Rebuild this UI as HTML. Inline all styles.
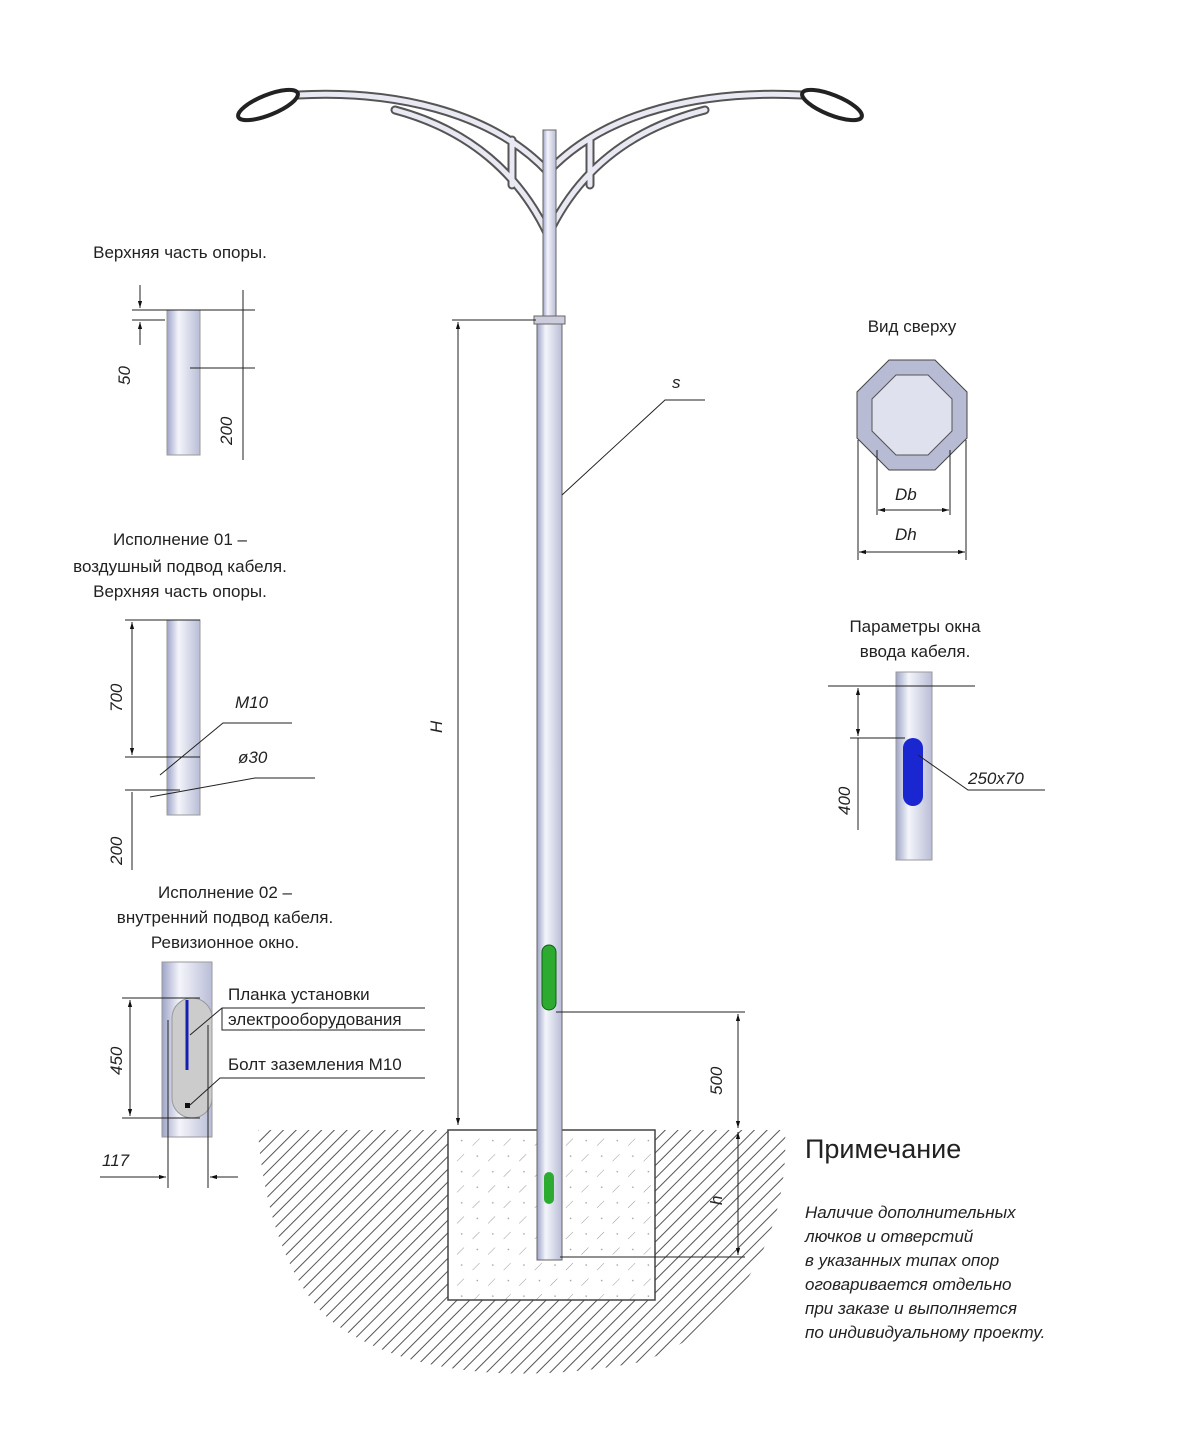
<!DOCTYPE html>
<html><head><meta charset="utf-8"><style>
html,body{margin:0;padding:0;background:#fff}
svg{display:block}
text{font-family:"Liberation Sans Narrow","Liberation Sans",sans-serif;fill:#222}
.t{font-size:17px;font-style:italic}
.h{font-size:17px}
</style></head><body>
<svg width="1182" height="1431" viewBox="0 0 1182 1431" xmlns="http://www.w3.org/2000/svg">
<defs>
<pattern id="hat" width="9" height="9" patternUnits="userSpaceOnUse" patternTransform="rotate(45)">
<rect width="9" height="9" fill="#fff"/><line x1="0" y1="0" x2="0" y2="9" stroke="#555" stroke-width="2"/>
</pattern>
<pattern id="con" width="22" height="22" patternUnits="userSpaceOnUse" patternTransform="rotate(45)">
<rect width="22" height="22" fill="#fff"/><line x1="0" y1="4" x2="0" y2="14" stroke="#999" stroke-width="1"/><circle cx="11" cy="18" r="0.8" fill="#999"/>
</pattern>
<linearGradient id="tube" x1="0" x2="1">
<stop offset="0" stop-color="#9ea4c8"/><stop offset="0.35" stop-color="#f4f5fb"/><stop offset="1" stop-color="#b9bdd6"/>
</linearGradient>
<marker id="ar" viewBox="0 0 10 10" refX="10" refY="5" markerWidth="10" markerHeight="7" orient="auto-start-reverse"><path d="M0,2 L10,5 L0,8z" fill="#111"/></marker>
</defs>

<!-- ground -->
<path d="M258,1130 L785,1130 C790,1230 740,1330 640,1362 C520,1385 400,1375 330,1320 C285,1280 262,1200 258,1130Z" fill="url(#hat)"/>
<rect x="448" y="1130" width="207" height="170" fill="url(#con)" stroke="#444" stroke-width="1.5"/>

<!-- arms -->
<g fill="none" stroke="#555" stroke-width="9" stroke-linecap="round">
<path d="M548,172 C490,110 390,90 298,95"/>
<path d="M548,235 C520,175 470,130 395,110"/>
<path d="M548,172 C606,110 706,90 802,95"/>
<path d="M548,235 C576,175 626,130 705,110"/>
<path d="M512,140 L512,185 M590,140 L590,185"/>
</g>
<g fill="none" stroke="#e8e9f2" stroke-width="5" stroke-linecap="round">
<path d="M548,172 C490,110 390,90 298,95"/>
<path d="M548,235 C520,175 470,130 395,110"/>
<path d="M548,172 C606,110 706,90 802,95"/>
<path d="M548,235 C576,175 626,130 705,110"/>
<path d="M512,140 L512,185 M590,140 L590,185"/>
</g>
<ellipse cx="268" cy="105" rx="32" ry="10" transform="rotate(-22 268 105)" fill="#fff" stroke="#222" stroke-width="4"/>
<ellipse cx="832" cy="105" rx="32" ry="10" transform="rotate(22 832 105)" fill="#fff" stroke="#222" stroke-width="4"/>

<!-- pole -->
<rect x="543" y="130" width="13" height="190" fill="url(#tube)" stroke="#666"/>
<rect x="537" y="320" width="25" height="940" fill="url(#tube)" stroke="#666"/>
<rect x="534" y="316" width="31" height="8" fill="#ccd" stroke="#666"/>
<rect x="542" y="945" width="14" height="65" rx="7" fill="#2daa30" stroke="#0c6010"/>
<rect x="544" y="1172" width="10" height="32" rx="5" fill="#2daa30"/>

<!-- dimensions main -->
<g stroke="#222" stroke-width="1" fill="none">
<line x1="452" y1="320" x2="536" y2="320"/>
<line x1="458" y1="322" x2="458" y2="1125" marker-start="url(#ar)" marker-end="url(#ar)"/>
<line x1="556" y1="1012" x2="745" y2="1012"/>
<line x1="738" y1="1014" x2="738" y2="1128" marker-start="url(#ar)" marker-end="url(#ar)"/>
<line x1="738" y1="1132" x2="738" y2="1255" marker-start="url(#ar)" marker-end="url(#ar)"/>
<line x1="560" y1="1257" x2="745" y2="1257"/>
<polyline points="562,495 665,400 705,400"/>
</g>
<text class="t" x="0" y="0" transform="translate(442,733) rotate(-90)" font-size="22">H</text>
<text class="t" x="0" y="0" transform="translate(722,1095) rotate(-90)" font-size="22">500</text>
<text class="t" x="0" y="0" transform="translate(722,1205) rotate(-90)" font-size="22">h</text>
<text class="t" x="672" y="388" font-size="24">s</text>

<!-- left: top -->
<text class="h" x="180" y="258" text-anchor="middle">Верхняя часть опоры.</text>
<rect x="167" y="310" width="33" height="145" fill="url(#tube)" stroke="#999"/>
<g stroke="#222" fill="none">
<line x1="132" y1="310" x2="255" y2="310"/>
<line x1="132" y1="320" x2="165" y2="320"/>
<line x1="190" y1="368" x2="255" y2="368"/>
<line x1="140" y1="285" x2="140" y2="308" marker-end="url(#ar)"/>
<line x1="140" y1="345" x2="140" y2="322" marker-end="url(#ar)"/>
<line x1="243" y1="290" x2="243" y2="460"/>
</g>
<text class="t" transform="translate(130,385) rotate(-90)" font-size="22">50</text>
<text class="t" transform="translate(232,445) rotate(-90)" font-size="22">200</text>

<!-- left: 01 -->
<text class="h" x="180" y="545" text-anchor="middle">Исполнение 01 –</text>
<text class="h" x="180" y="572" text-anchor="middle">воздушный подвод кабеля.</text>
<text class="h" x="180" y="597" text-anchor="middle">Верхняя часть опоры.</text>
<rect x="167" y="620" width="33" height="195" fill="url(#tube)" stroke="#999"/>
<g stroke="#222" fill="none">
<line x1="125" y1="620" x2="200" y2="620"/>
<line x1="132" y1="622" x2="132" y2="755" marker-start="url(#ar)" marker-end="url(#ar)"/>
<line x1="125" y1="757" x2="200" y2="757"/>
<line x1="125" y1="790" x2="180" y2="790"/>
<line x1="132" y1="792" x2="132" y2="870"/>
<polyline points="160,775 223,723 292,723"/>
<polyline points="150,797 255,778 315,778"/>
</g>
<text class="t" x="235" y="708" font-size="24">M10</text>
<text class="t" x="238" y="763" font-size="24">ø30</text>
<text class="t" transform="translate(122,712) rotate(-90)" font-size="22">700</text>
<text class="t" transform="translate(122,865) rotate(-90)" font-size="22">200</text>

<!-- left: 02 -->
<text class="h" x="225" y="898" text-anchor="middle">Исполнение 02 –</text>
<text class="h" x="225" y="923" text-anchor="middle">внутренний подвод кабеля.</text>
<text class="h" x="225" y="948" text-anchor="middle">Ревизионное окно.</text>
<rect x="162" y="962" width="50" height="175" fill="url(#tube)" stroke="#999"/>
<rect x="172" y="998" width="40" height="120" rx="20" fill="#ccc" stroke="#999"/>
<line x1="187" y1="1000" x2="187" y2="1070" stroke="#1620b0" stroke-width="3"/>
<rect x="185" y="1103" width="5" height="5" fill="#111"/>
<g stroke="#222" fill="none">
<line x1="122" y1="998" x2="200" y2="998"/>
<line x1="122" y1="1118" x2="200" y2="1118"/>
<line x1="130" y1="1000" x2="130" y2="1116" marker-start="url(#ar)" marker-end="url(#ar)"/>
<line x1="168" y1="1020" x2="168" y2="1188"/>
<line x1="208" y1="1025" x2="208" y2="1188"/>
<line x1="140" y1="1177" x2="166" y2="1177" marker-end="url(#ar)"/>
<line x1="238" y1="1177" x2="210" y2="1177" marker-end="url(#ar)"/>
<line x1="100" y1="1177" x2="140" y2="1177"/>
<polyline points="190,1035 222,1008 425,1008"/>
<polyline points="222,1008 222,1030 425,1030"/>
<polyline points="190,1105 220,1078 425,1078"/>
</g>
<text class="h" x="228" y="1000">Планка установки</text>
<text class="h" x="228" y="1025">электрооборудования</text>
<text class="h" x="228" y="1070">Болт заземления М10</text>
<text class="t" transform="translate(122,1075) rotate(-90)" font-size="22">450</text>
<text class="t" x="102" y="1166" font-size="22">117</text>

<!-- top view -->
<text class="h" x="912" y="332" text-anchor="middle">Вид сверху</text>
<polygon points="889,360 935,360 967,392 967,438 935,470 889,470 857,438 857,392" fill="#b7bbd3" stroke="#444"/>
<polygon points="896,375 928,375 952,399 952,431 928,455 896,455 872,431 872,399" fill="#dfe1ee" stroke="#555"/>
<g stroke="#222" fill="none">
<line x1="877" y1="450" x2="877" y2="515"/>
<line x1="950" y1="450" x2="950" y2="515"/>
<line x1="878" y1="510" x2="949" y2="510" marker-start="url(#ar)" marker-end="url(#ar)"/>
<line x1="858" y1="440" x2="858" y2="560"/>
<line x1="966" y1="440" x2="966" y2="560"/>
<line x1="859" y1="552" x2="965" y2="552" marker-start="url(#ar)" marker-end="url(#ar)"/>
</g>
<text class="t" x="895" y="500" font-size="24">Db</text>
<text class="t" x="895" y="540" font-size="24">Dh</text>

<!-- window params -->
<text class="h" x="915" y="632" text-anchor="middle">Параметры окна</text>
<text class="h" x="915" y="657" text-anchor="middle">ввода кабеля.</text>
<rect x="896" y="672" width="36" height="188" fill="url(#tube)" stroke="#999"/>
<rect x="903" y="738" width="20" height="68" rx="10" fill="#1a26d0"/>
<g stroke="#222" fill="none">
<line x1="828" y1="686" x2="975" y2="686"/>
<line x1="850" y1="738" x2="905" y2="738"/>
<line x1="858" y1="688" x2="858" y2="736" marker-start="url(#ar)" marker-end="url(#ar)"/>
<line x1="858" y1="738" x2="858" y2="830"/>
<polyline points="918,755 968,790 1045,790"/>
</g>
<text class="t" x="968" y="784" font-size="18">250x70</text>
<text class="t" transform="translate(850,815) rotate(-90)" font-size="22">400</text>

<!-- note -->
<text x="805" y="1158" font-size="27" style="font-family:'Liberation Sans Narrow','Liberation Sans',sans-serif">Примечание</text>
<g class="t" font-size="16">
<text x="805" y="1218">Наличие дополнительных</text>
<text x="805" y="1242">лючков и отверстий</text>
<text x="805" y="1266">в указанных типах опор</text>
<text x="805" y="1290">оговаривается отдельно</text>
<text x="805" y="1314">при заказе и выполняется</text>
<text x="805" y="1338">по индивидуальному проекту.</text>
</g>
</svg>
</body></html>
